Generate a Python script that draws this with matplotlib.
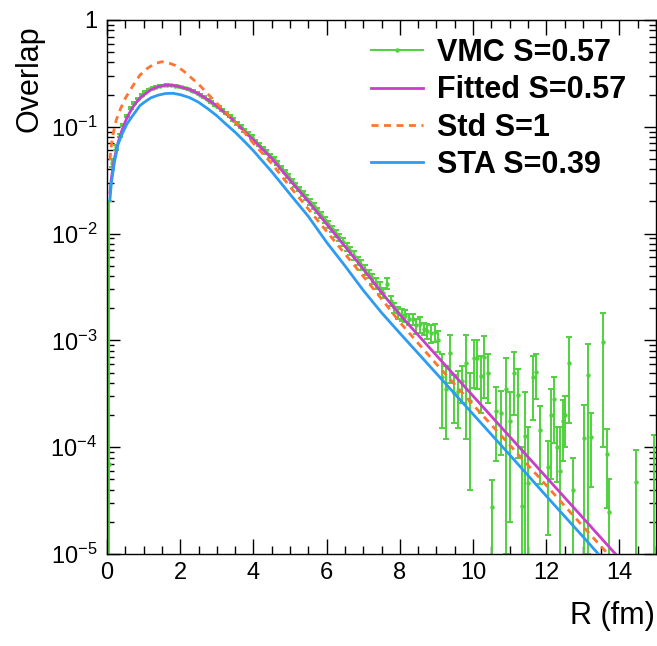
import numpy as np
import matplotlib
matplotlib.use("Agg")
import matplotlib.pyplot as plt
from matplotlib.lines import Line2D
from matplotlib.ticker import FuncFormatter, MultipleLocator, LogLocator

plt.rcParams['font.family'] = ['Liberation Sans', 'DejaVu Sans']
plt.rcParams['mathtext.fontset'] = 'custom'
plt.rcParams['mathtext.rm'] = 'Liberation Sans'
plt.rcParams['mathtext.it'] = 'Liberation Sans'
plt.rcParams['mathtext.default'] = 'regular'

# ---- VMC histogram (bin centre, value, error) ----
vmc_r = [0.05, 0.15, 0.25, 0.35, 0.45, 0.55, 0.65, 0.75, 0.85, 0.95,
         1.05, 1.15, 1.25, 1.35, 1.45, 1.55, 1.65, 1.75, 1.85, 1.95,
         2.05, 2.15, 2.25, 2.35, 2.45, 2.55, 2.65, 2.75, 2.85, 2.95,
         3.05, 3.15, 3.25, 3.35, 3.45, 3.55, 3.65, 3.75, 3.85, 3.95,
         4.05, 4.15, 4.25, 4.35, 4.45, 4.55, 4.65, 4.75, 4.85, 4.95,
         5.05, 5.15, 5.25, 5.35, 5.45, 5.55, 5.65, 5.75, 5.85, 5.95,
         6.05, 6.15, 6.25, 6.35, 6.45, 6.55, 6.65, 6.75, 6.85, 6.95,
         7.05, 7.15, 7.25, 7.35, 7.45, 7.55, 7.65, 7.75, 7.85, 7.95,
         8.05, 8.15, 8.25, 8.35, 8.45, 8.55, 8.65, 8.75, 8.85, 8.95,
         9.05, 9.14, 9.25, 9.37, 9.48, 9.60, 9.71, 9.82, 9.92, 10.02,
         10.12, 10.23, 10.31, 10.40, 10.51, 10.63, 10.76, 10.90, 11.00, 11.11,
         11.24, 11.33, 11.42, 11.51, 11.65, 11.72, 11.83, 12.05, 12.12, 12.21,
         12.30, 12.37, 12.45, 12.52, 12.63, 12.74, 13.04, 13.15, 13.22, 13.54,
         13.65, 13.72, 14.45, 14.95]
vmc_val = [7.0e-5, 0.046, 0.064, 0.083, 0.104, 0.126, 0.149, 0.168, 0.184, 0.199,
           0.213, 0.224, 0.232, 0.238, 0.242, 0.245, 0.246, 0.245, 0.243, 0.240,
           0.235, 0.230, 0.224, 0.216, 0.209, 0.200, 0.191, 0.180, 0.170, 0.160,
           0.153, 0.143, 0.135, 0.126, 0.117, 0.108, 0.100, 0.093, 0.086, 0.080,
           0.074, 0.068, 0.063, 0.058, 0.0535, 0.0500, 0.0458, 0.0418, 0.0381, 0.0344,
           0.0314, 0.0286, 0.0261, 0.0238, 0.0217, 0.0198, 0.0181, 0.0165, 0.0149, 0.0134,
           0.0122, 0.0111, 0.0100, 0.0092, 0.0083, 0.0075, 0.0069, 0.0062, 0.0056, 0.0051,
           0.0046, 0.0042, 0.0038, 0.0034, 0.0031, 0.0028, 0.0034, 0.00234, 0.00204, 0.00182,
           0.00174, 0.00170, 0.00158, 0.00158, 0.00138, 0.00141, 0.00129, 0.00123, 0.00117, 0.00120,
           1.0e-3, 4.5e-4, 3.5e-4, 7.6e-4, 3.2e-4, 3.35e-4, 4.2e-4, 6.2e-4, 2.7e-4, 6.8e-4,
           6.8e-4, 4.6e-4, 7.0e-4, 5.0e-4, 2.75e-5, 2.2e-4, 2.1e-4, 3.5e-4, 1.75e-4, 4.9e-4,
           3.1e-4, 2.8e-5, 1.26e-4, 4.6e-5, 4.5e-4, 5.1e-4, 1.45e-4, 6.5e-5, 2.0e-4, 2.8e-4,
           1.0e-4, 6.0e-5, 1.75e-4, 2.0e-4, 6.2e-4, 4.0e-5, 1.23e-4, 4.7e-4, 1.25e-4, 9.6e-4,
           8.7e-5, 2.5e-5, 4.7e-5, 5.0e-6]
vmc_err = [2.0e-2, 0.004, 0.004, 0.003, 0.003, 0.003, 0.003, 0.003, 0.003, 0.003,
           0.003, 0.003, 0.003, 0.003, 0.003, 0.003, 0.003, 0.003, 0.003, 0.003,
           0.003, 0.003, 0.003, 0.003, 0.003, 0.003, 0.003, 0.003, 0.003, 0.003,
           0.003, 0.003, 0.003, 0.003, 0.003, 0.003, 0.003, 0.003, 0.003, 0.003,
           0.002, 0.002, 0.002, 0.002, 0.002, 0.0018, 0.0017, 0.0016, 0.0015, 0.0015,
           0.0014, 0.0013, 0.0013, 0.0012, 0.0012, 0.0011, 0.0011, 0.0010, 0.0010, 0.0009,
           0.0009, 0.0008, 0.0008, 0.0007, 0.0007, 0.0006, 0.0006, 0.0006, 0.0005, 0.0005,
           0.0005, 0.0004, 0.0004, 0.0004, 0.0004, 0.0003, 0.0004, 0.00025, 0.00022, 0.00022,
           0.00023, 0.00022, 0.00020, 0.00018, 0.00022, 0.00024, 0.00016, 0.00019, 0.00023, 0.00023,
           2.2e-4, 3.0e-4, 2.3e-4, 3.6e-4, 1.5e-4, 1.85e-4, 1.6e-4, 5.0e-4, 2.3e-4, 3.2e-4,
           3.3e-4, 2.5e-4, 4.1e-4, 2.4e-4, 2.2e-5, 1.45e-4, 1.25e-4, 3.4e-4, 1.55e-4, 2.9e-4,
           2.3e-4, 7.2e-5, 2.0e-4, 1.1e-4, 2.7e-4, 2.3e-4, 1.0e-4, 5.0e-5, 1.5e-4, 1.7e-4,
           5.3e-5, 9.5e-5, 1.0e-4, 1.0e-4, 4.5e-4, 4.0e-5, 1.27e-4, 4.6e-4, 8.3e-5, 8.6e-4,
           6.0e-5, 2.5e-5, 4.8e-5, 1.24e-4]

# ---- fitted curve, S=0.57 ----
fit_r = [0.08, 0.12, 0.2, 0.3, 0.4, 0.55, 0.7, 0.85, 1.0, 1.2, 1.4, 1.6, 1.8,
         2.0, 2.25, 2.5, 2.75, 3.0, 3.25, 3.5, 3.75, 4.0, 4.5, 5.0, 5.5, 6.0,
         6.5, 7.0, 7.5, 8.0, 9.0, 10.0, 11.0, 12.0, 13.0, 14.0, 15.0]
fit_val = [0.024, 0.033, 0.050, 0.071, 0.091, 0.123, 0.152, 0.178, 0.198, 0.222, 0.238, 0.245, 0.245,
           0.237, 0.224, 0.204, 0.180, 0.157, 0.133, 0.111, 0.0912, 0.0752, 0.0507, 0.0316, 0.0200, 0.0123,
           0.00759, 0.00468, 0.00282, 0.00174, 7.24e-4, 3.02e-4, 1.26e-4, 5.25e-5, 2.19e-5, 9.1e-6, 3.8e-6]

# ---- standard curve, S=1 ----
std_r = [0.08, 0.12, 0.17, 0.25, 0.36, 0.5, 0.7, 0.9, 1.1, 1.3, 1.5, 1.7, 1.9,
         2.1, 2.3, 2.5, 2.75, 3.0, 3.25, 3.5, 3.75, 4.0, 4.5, 5.0, 5.5, 6.0,
         6.5, 7.0, 7.5, 8.0, 9.0, 10.0, 11.0, 12.0, 13.0, 14.0, 15.0]
std_val = [0.049, 0.068, 0.087, 0.115, 0.145, 0.185, 0.240, 0.305, 0.352, 0.390, 0.407, 0.394, 0.372,
           0.331, 0.288, 0.251, 0.204, 0.166, 0.136, 0.111, 0.0891, 0.0700, 0.0452, 0.0275, 0.0170, 0.0105,
           0.00646, 0.00398, 0.00245, 0.00148, 6.0e-4, 2.5e-4, 1.05e-4, 4.4e-5, 1.82e-5, 7.6e-6, 3.2e-6]

# ---- STA curve, S=0.39 ----
sta_r = [0.08, 0.12, 0.2, 0.3, 0.4, 0.55, 0.7, 0.9, 1.0, 1.2, 1.4, 1.6, 1.8,
         2.0, 2.25, 2.5, 2.75, 3.0, 3.25, 3.5, 3.75, 4.0, 4.5, 5.0, 5.5, 6.0,
         6.5, 7.0, 7.5, 8.0, 9.0, 10.0, 11.0, 12.0, 13.0, 14.0, 15.0]
sta_val = [0.0207, 0.030, 0.046, 0.068, 0.084, 0.107, 0.127, 0.158, 0.168, 0.187, 0.198, 0.205, 0.206,
           0.200, 0.188, 0.170, 0.148, 0.127, 0.106, 0.0891, 0.0733, 0.0597, 0.0380, 0.0234, 0.0145, 0.0083,
           0.0050, 0.00295, 0.00182, 0.00117, 4.9e-4, 2.04e-4, 8.5e-5, 3.5e-5, 1.46e-5, 6.0e-6, 2.5e-6]

labels = ["VMC S=0.57", "Fitted S=0.57", "Std S=1", "STA S=0.39"]

GREEN = '#4fd23c'
MAGENTA = '#cc3ccc'
ORANGE = '#ff7430'
BLUE = '#2c9cf2'

fig = plt.figure(figsize=(6.57, 6.46), dpi=100)
ax = fig.add_axes([107/657, 92/646, 549/657, 534/646])

v = np.array(vmc_val)
e = np.array(vmc_err)
lo = np.minimum(e, v - 1e-7)   # bars that go below zero run to the bottom
ax.errorbar(vmc_r, v, yerr=[lo, e], fmt='o', ms=2.2, color=GREEN, ecolor=GREEN,
            elinewidth=1.4, capsize=2.4, capthick=1.4, zorder=2)

ax.plot(fit_r, fit_val, color=MAGENTA, lw=2.0, zorder=3)
ax.plot(std_r, std_val, color=ORANGE, lw=2.0, ls=(0, (2.5, 2.0)), zorder=3)
ax.plot(sta_r, sta_val, color=BLUE, lw=2.0, zorder=3)

ax.set_yscale('log')
ax.set_xlim(0, 15)
ax.set_ylim(1e-5, 1)

ax.xaxis.set_major_locator(MultipleLocator(2))
ax.xaxis.set_minor_locator(MultipleLocator(0.5))
ax.yaxis.set_major_locator(LogLocator(base=10, numticks=10))
ax.yaxis.set_minor_locator(LogLocator(base=10, subs=np.arange(2, 10), numticks=20))


def yfmt(y, pos):
    if abs(y - 1) < 1e-9:
        return '1'
    return r'$10^{%d}$' % int(round(np.log10(y)))


ax.yaxis.set_major_formatter(FuncFormatter(yfmt))
ax.xaxis.set_major_formatter(FuncFormatter(lambda x, pos: '%d' % x if x < 15 else ''))

ax.tick_params(which='both', direction='in', top=True, right=True, width=1.0, colors='black')
ax.tick_params(axis='x', which='major', length=11, labelsize=17, pad=6)
ax.tick_params(axis='x', which='minor', length=5.5)
ax.tick_params(axis='y', which='major', length=9, labelsize=17, pad=7)
ax.tick_params(axis='y', which='minor', length=5)
for s in ax.spines.values():
    s.set_linewidth(1.0)

fig.text(30/657, 1 - 25/646, 'Overlap', rotation=90, ha='center', va='top', fontsize=22)
fig.text(655/657, 1 - 616/646, 'R (fm)', ha='right', va='center', fontsize=22)

handles = [
    Line2D([], [], color=GREEN, lw=1.4, marker='o', ms=2.2),
    Line2D([], [], color=MAGENTA, lw=2.0),
    Line2D([], [], color=ORANGE, lw=2.0, ls=(0, (2.5, 2.0))),
    Line2D([], [], color=BLUE, lw=2.0),
]
leg = ax.legend(handles, labels, loc='upper left', bbox_to_anchor=(371/657, 1 - 38/646),
                bbox_transform=fig.transFigure, frameon=False, handlelength=1.7,
                handletextpad=0.45, labelspacing=0.24, borderaxespad=0, borderpad=0,
                prop={'weight': 'bold', 'size': 22})

fig.savefig('out.png', dpi=100)
